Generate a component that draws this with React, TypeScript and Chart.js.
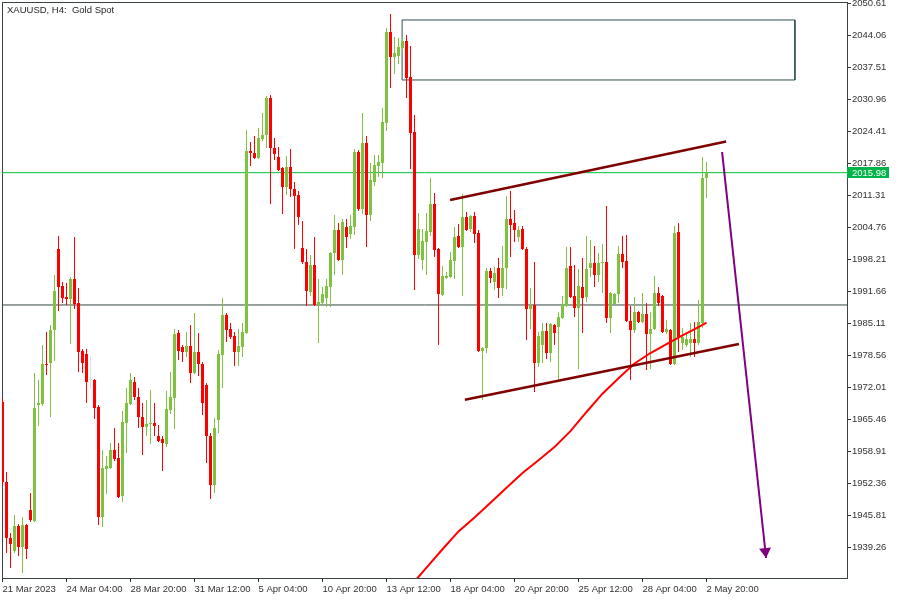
import React, { useEffect, useRef } from "react";
import { Chart, registerables } from "chart.js";

Chart.register(...registerables);

// ---- Candle data (XAUUSD H4), index 0 = 21 Mar 2023 ----
const opens = [
  1969.04, 1952.67, 1941.21, 1938.55, 1943.66, 1939.37, 1943.87, 1946.94, 1944.69, 1968.43,
  1968.63, 1976.82, 1977.03, 1983.78, 2000.36, 1992.78, 1990.53, 1990.12, 1994.22, 1989.31,
  1979.48, 1978.87, 1973.55, 1973.55, 1968.02, 1945.51, 1955.33, 1955.53, 1959.22, 1957.58,
  1949.80, 1964.75, 1968.63, 1973.14, 1970.07, 1965.97, 1963.93, 1964.54, 1964.75, 1962.08,
  1961.47, 1960.45, 1967.41, 1969.86, 1983.17, 1980.30, 1979.28, 1980.50, 1974.98, 1979.28,
  1976.82, 1972.52, 1962.08, 1952.06, 1965.36, 1978.66, 1986.85, 1983.98, 1982.55, 1979.28,
  1980.30, 1983.17, 2020.42, 2020.01, 2018.98, 2022.87, 2023.69, 2031.26, 2021.03, 2019.19,
  2016.94, 2013.05, 2017.14, 2012.64, 2011.41, 2000.56, 1997.70, 1991.56, 1997.08, 1988.90,
  1989.31, 1990.33, 1992.58, 1999.54, 2004.25, 1998.11, 2004.86, 2003.43, 2004.86, 2020.21,
  2008.54, 2022.05, 2007.32, 2014.07, 2017.35, 2017.96, 2026.15, 2044.77, 2039.65, 2039.86,
  2041.50, 2042.93, 2035.56, 2024.30, 1999.13, 1998.11, 2001.79, 2003.84, 2009.57, 2000.36,
  1990.94, 1994.42, 1994.63, 1997.90, 2003.02, 2000.77, 2006.91, 2004.45, 2007.11, 2003.63,
  1979.48, 1980.09, 1995.85, 1993.60, 1996.47, 1992.38, 1996.47, 2006.50, 2005.68, 2002.81,
  2004.45, 2000.36, 1988.08, 1988.90, 1977.03, 1980.71, 1983.57, 1979.07, 1984.80, 1984.39,
  1986.24, 1988.69, 1996.88, 1990.74, 1988.28, 1992.58, 1990.53, 1996.47, 1997.49, 1995.04,
  1997.49, 1997.70, 1986.24, 1989.10, 1991.15, 1999.33, 1997.90, 1985.62, 1983.78, 1987.46,
  1985.42, 1987.05, 1982.96, 1983.98, 1991.35, 1990.74, 1983.37, 1983.78, 1976.82, 2003.84,
  1981.12, 1980.71, 1981.12, 1981.94, 1981.12, 1985.21, 2014.89,
];
const highs = [
  1969.86, 1954.72, 1942.23, 1945.92, 1944.07, 1945.51, 1944.07, 1950.42, 1974.98, 1973.55,
  1980.71, 1983.37, 1984.80, 1995.04, 2003.02, 1993.60, 1993.40, 1994.63, 2002.81, 1992.38,
  1979.89, 1979.89, 1978.46, 1973.75, 1968.43, 1959.22, 1957.99, 1960.65, 1963.72, 1960.65,
  1967.20, 1971.91, 1974.98, 1974.16, 1971.91, 1968.84, 1969.45, 1971.50, 1968.84, 1964.34,
  1962.08, 1971.29, 1975.18, 1983.98, 1983.78, 1980.71, 1983.37, 1984.80, 1987.26, 1983.17,
  1977.23, 1972.93, 1962.70, 1965.77, 1979.69, 1990.33, 1987.26, 1985.21, 1983.37, 1983.98,
  1985.21, 2024.71, 2022.26, 2023.49, 2025.12, 2028.19, 2031.67, 2031.88, 2023.08, 2021.23,
  2017.14, 2019.39, 2020.82, 2014.07, 2012.23, 2006.09, 2000.36, 1999.13, 2002.81, 1994.22,
  1992.58, 1994.22, 1999.74, 2007.32, 2005.68, 2006.50, 2006.50, 2007.32, 2020.82, 2020.62,
  2028.19, 2023.49, 2017.96, 2019.60, 2019.60, 2029.22, 2045.59, 2048.45, 2043.75, 2043.54,
  2043.75, 2044.16, 2041.91, 2027.78, 2007.72, 2004.45, 2007.72, 2014.89, 2011.82, 2000.56,
  1996.88, 1995.65, 1999.74, 2004.86, 2005.47, 2011.61, 2007.93, 2007.32, 2007.93, 2004.25,
  1980.30, 1996.47, 1996.47, 1996.67, 1998.52, 2000.97, 2011.21, 2012.23, 2008.34, 2005.07,
  2005.07, 2000.77, 1992.38, 1997.70, 1983.37, 1985.21, 1985.21, 1985.21, 1985.01, 1987.46,
  1990.74, 2000.77, 2000.77, 1997.08, 1996.26, 1998.52, 2003.02, 2002.20, 2000.97, 1999.54,
  2001.38, 2009.16, 1991.56, 1991.35, 2000.97, 2003.02, 2003.22, 1988.69, 1990.53, 1987.67,
  1991.35, 1989.31, 1987.46, 1994.83, 1992.58, 1990.94, 1985.83, 1983.98, 2005.07, 2005.68,
  1984.19, 1983.37, 1985.21, 1985.42, 1989.92, 2019.19, 2018.16,
];
const lows = [
  1952.06, 1938.14, 1935.07, 1938.14, 1937.52, 1934.04, 1936.91, 1944.48, 1944.48, 1964.13,
  1968.22, 1974.57, 1965.97, 1977.43, 1987.67, 1989.31, 1988.90, 1980.91, 1988.08, 1975.18,
  1974.98, 1968.84, 1971.70, 1965.56, 1943.87, 1943.46, 1950.21, 1955.33, 1956.97, 1949.39,
  1948.58, 1958.60, 1968.43, 1969.45, 1963.72, 1958.20, 1962.08, 1960.45, 1962.08, 1960.86,
  1954.92, 1959.83, 1966.59, 1963.52, 1977.64, 1977.23, 1978.25, 1972.93, 1974.77, 1974.36,
  1966.38, 1956.56, 1949.19, 1950.42, 1962.70, 1971.91, 1981.32, 1981.94, 1976.41, 1976.41,
  1978.25, 1982.96, 2017.35, 2018.78, 2018.78, 2022.46, 2021.03, 2009.57, 2018.57, 2016.32,
  2007.52, 2011.41, 2011.00, 2000.36, 2005.27, 1997.29, 1988.69, 1990.74, 1988.69, 1981.12,
  1988.90, 1988.49, 1988.49, 1995.04, 1997.90, 1995.04, 2000.56, 2002.40, 2003.22, 2008.14,
  2007.52, 2000.77, 2006.09, 2013.25, 2015.09, 2014.89, 2024.51, 2033.31, 2036.17, 2038.22,
  2040.47, 2031.26, 2016.73, 1991.97, 1998.31, 1996.06, 1995.04, 2003.02, 1998.72, 1980.71,
  1990.74, 1994.22, 1994.42, 1994.22, 2000.56, 1990.74, 2004.04, 2003.84, 2001.59, 1979.28,
  1969.45, 1979.07, 1993.40, 1991.97, 1990.33, 1990.74, 1992.17, 1998.72, 2001.79, 2001.79,
  2000.15, 1981.73, 1983.98, 1971.09, 1976.21, 1977.03, 1977.84, 1977.23, 1980.71, 1973.55,
  1986.03, 1988.49, 1990.33, 1986.44, 1975.80, 1983.17, 1989.51, 1994.63, 1992.58, 1993.60,
  1991.35, 1985.21, 1983.17, 1988.90, 1989.31, 1996.47, 1985.42, 1973.55, 1983.17, 1985.21,
  1985.21, 1975.59, 1975.80, 1983.78, 1988.69, 1983.17, 1982.96, 1976.62, 1976.62, 1979.28,
  1979.69, 1980.30, 1978.25, 1978.25, 1980.71, 1984.19, 2010.80,
];
const closes = [
  1952.67, 1941.21, 1939.98, 1943.66, 1939.37, 1943.87, 1938.96, 1944.89, 1967.82, 1968.84,
  1976.82, 1976.62, 1983.78, 1991.76, 1992.58, 1990.33, 1990.12, 1994.22, 1989.10, 1979.28,
  1977.03, 1973.14, 1973.55, 1967.82, 1945.51, 1955.53, 1955.94, 1959.22, 1957.38, 1949.60,
  1964.95, 1968.84, 1973.55, 1970.07, 1965.97, 1963.93, 1964.54, 1964.75, 1964.13, 1961.06,
  1960.65, 1967.61, 1970.07, 1982.96, 1979.48, 1979.28, 1980.50, 1974.98, 1979.28, 1976.82,
  1968.84, 1962.08, 1952.06, 1963.72, 1978.87, 1986.85, 1983.78, 1982.35, 1979.28, 1980.50,
  1983.37, 2020.42, 2020.01, 2018.98, 2023.08, 2023.69, 2031.26, 2021.03, 2019.80, 2016.53,
  2013.05, 2017.14, 2012.64, 2011.21, 2006.91, 1997.70, 1991.76, 1997.08, 1988.90, 1989.51,
  1991.15, 1992.78, 1999.54, 2004.25, 1998.11, 2005.88, 2002.81, 2005.07, 2020.21, 2008.54,
  2022.05, 2007.32, 2014.48, 2017.55, 2018.16, 2026.35, 2044.77, 2039.65, 2040.47, 2041.70,
  2042.93, 2035.36, 2024.10, 1999.13, 2004.45, 2001.99, 2004.04, 2009.57, 2000.15, 1991.15,
  1994.83, 1994.83, 1998.11, 2002.81, 2000.77, 2006.91, 2004.25, 2007.11, 2003.43, 1979.48,
  1980.09, 1995.85, 1994.42, 1995.45, 1992.38, 1996.47, 2006.50, 2005.27, 2004.25, 2004.25,
  2000.36, 1988.08, 1988.90, 1977.03, 1982.55, 1983.57, 1979.07, 1985.01, 1983.17, 1986.44,
  1988.90, 1996.47, 1990.53, 1988.28, 1992.78, 1990.33, 1996.26, 1997.49, 1995.04, 1997.49,
  1997.70, 1986.24, 1991.35, 1991.15, 1999.33, 1997.70, 1985.62, 1983.78, 1987.46, 1985.42,
  1987.05, 1982.96, 1983.98, 1991.35, 1989.31, 1983.37, 1983.98, 1976.82, 2003.63, 1982.35,
  1982.35, 1981.94, 1981.94, 1981.12, 1985.42, 2014.89, 2015.98,
];

// ---- Axis ticks ----
const xTickIndex = [0, 16, 32, 48, 64, 80, 96, 112, 128, 144, 160, 176];
const xTickLabels = [
  "21 Mar 2023", "24 Mar 04:00", "28 Mar 20:00", "31 Mar 12:00", "5 Apr 04:00", "10 Apr 20:00",
  "13 Apr 12:00", "18 Apr 04:00", "20 Apr 20:00", "25 Apr 12:00", "28 Apr 04:00", "2 May 20:00",
];
const yTickValues = [
  1939.26, 1945.81, 1952.36, 1958.91, 1965.46, 1972.01, 1978.56, 1985.11, 1991.66,
  1998.21, 2004.76, 2011.31, 2017.86, 2024.41, 2030.96, 2037.51, 2044.06, 2050.61,
];

// ---- Moving average (read at candle indices) ----
const maIndex = [102, 106, 110, 114, 118, 122, 126, 130, 134, 138, 142, 146, 150, 154, 158, 162, 166, 170, 174, 176];
const maValues = [
  1931.36, 1935.13, 1938.90, 1942.56, 1945.40, 1948.41, 1951.50, 1954.51, 1957.13, 1959.83,
  1963.07, 1967.00, 1970.74, 1973.91, 1976.92, 1979.07, 1980.91, 1982.67, 1984.37, 1985.27,
];

// ---- Drawing objects ----
const upperTrendIndex = [111.9, 180.9];
const upperTrendPrice = [2010.39, 2022.37];
const lowerTrendIndex = [115.6, 184.1];
const lowerTrendPrice = [1969.51, 1980.92];
const arrowIndex = [179.9, 190.9];
const arrowPrice = [2020.21, 1937.11];
const zoneIndex = [99.9, 198.1];
const zonePrice = [2047.23, 2034.95];
const bidPrice = 2015.98;
const levelPrice = 1988.9;
const chartTitle = "XAUUSD, H4:  Gold Spot";

const X_MIN = -0.125;
const X_MAX = 211.125;
const Y_MIN = 1933.02;
const Y_MAX = 2050.91;

const GREEN = "#7fc241";
const RED = "#ff0000";
const DOJI = "#d8e4e2";
const FONT = "Liberation Sans";

export default function App() {
  const ref = useRef<HTMLCanvasElement>(null);

  useEffect(() => {
    const canvas = ref.current;
    if (!canvas) return;
    const idx = opens.map((_, i) => i);
    const colors = idx.map((i) =>
      closes[i] > opens[i] ? GREEN : closes[i] < opens[i] ? RED : DOJI
    );
    const pts = (xs: number[], ys: number[]) => xs.map((x, i) => ({ x, y: ys[i] }));
    const lineDs = (label: string, data: any[], color: string, width: number, order: number) => ({
      type: "line",
      label,
      data,
      borderColor: color,
      borderWidth: width,
      pointRadius: 0,
      tension: 0,
      fill: false,
      clip: 0,
      order,
    });

    const overlay = {
      id: "overlay",
      beforeDatasetsDraw(chart: any) {
        const { ctx, chartArea: a } = chart;
        ctx.save();
        ctx.strokeStyle = "#3a4448";
        ctx.lineWidth = 1;
        ctx.strokeRect(a.left + 0.5, a.top + 0.5, a.right - a.left, a.bottom - a.top);
        ctx.restore();
      },
      afterDatasetsDraw(chart: any) {
        const { ctx, scales } = chart;
        const x0 = scales.x.getPixelForValue(arrowIndex[0]);
        const y0 = scales.y.getPixelForValue(arrowPrice[0]);
        const x1 = scales.x.getPixelForValue(arrowIndex[1]);
        const y1 = scales.y.getPixelForValue(arrowPrice[1]);
        const ang = Math.atan2(y1 - y0, x1 - x0);
        const len = 10;
        const half = 6;
        const bx = x1 - len * Math.cos(ang);
        const by = y1 - len * Math.sin(ang);
        ctx.save();
        ctx.fillStyle = "#800080";
        ctx.beginPath();
        ctx.moveTo(x1, y1);
        ctx.lineTo(bx + half * Math.sin(ang), by - half * Math.cos(ang));
        ctx.lineTo(bx - half * Math.sin(ang), by + half * Math.cos(ang));
        ctx.closePath();
        ctx.fill();
        ctx.restore();
      },
      afterDraw(chart: any) {
        const { ctx, scales, chartArea: a } = chart;
        const py = scales.y.getPixelForValue(bidPrice);
        ctx.save();
        ctx.fillStyle = "#00b448";
        const top = Math.round(py - 5.5);
        ctx.fillRect(a.right, top, 42, 11);
        ctx.fillStyle = "#ffffff";
        ctx.font = `9.5px "${FONT}"`;
        ctx.textBaseline = "middle";
        ctx.textAlign = "left";
        ctx.fillText(bidPrice.toFixed(2), a.right + 5, top + 6);
        ctx.fillStyle = "#1e1e1e";
        ctx.fillText(chartTitle, 7, 10);
        ctx.restore();
      },
    };

    const chart = new Chart(canvas, {
      type: "bar",
      data: {
        datasets: [
          lineDs("arrow", pts(arrowIndex, arrowPrice), "#800080", 2, 0),
          lineDs("upper", pts(upperTrendIndex, upperTrendPrice), "#800000", 2.5, 1),
          lineDs("lower", pts(lowerTrendIndex, lowerTrendPrice), "#800000", 2.5, 1),
          lineDs("ma", pts(maIndex, maValues), "#ff0000", 2, 2),
          {
            type: "bar",
            label: "body",
            data: idx.map((i) => ({ x: i, y: [opens[i], closes[i]] })),
            backgroundColor: colors,
            borderWidth: 0,
            barPercentage: 0.75,
            categoryPercentage: 1,
            grouped: false,
            minBarLength: 1,
            order: 3,
          },
          {
            type: "bar",
            label: "wick",
            data: idx.map((i) => ({ x: i, y: [lows[i], highs[i]] })),
            backgroundColor: colors,
            borderWidth: 0,
            barPercentage: 0.25,
            categoryPercentage: 1,
            grouped: false,
            order: 4,
          },
          lineDs(
            "zone",
            [
              { x: zoneIndex[0], y: zonePrice[0] },
              { x: zoneIndex[1], y: zonePrice[0] },
              { x: zoneIndex[1], y: zonePrice[1] },
              { x: zoneIndex[0], y: zonePrice[1] },
              { x: zoneIndex[0], y: zonePrice[0] },
            ],
            "#2f4f4f",
            1,
            5
          ),
          lineDs("bid", [{ x: X_MIN, y: bidPrice }, { x: X_MAX, y: bidPrice }], "#00c040", 1, 6),
          lineDs("level", [{ x: X_MIN, y: levelPrice }, { x: X_MAX, y: levelPrice }], "#364444", 1, 6),
        ] as any,
      },
      options: {
        responsive: false,
        animation: false,
        devicePixelRatio: 1,
        events: [],
        layout: { padding: { left: 2, top: 2, right: 0, bottom: 0 } },
        plugins: { legend: { display: false }, tooltip: { enabled: false }, title: { display: false } },
        scales: {
          x: {
            type: "linear",
            position: "bottom",
            min: X_MIN,
            max: X_MAX,
            offset: false,
            afterBuildTicks: (s: any) => {
              s.ticks = xTickIndex.map((v) => ({ value: v }));
            },
            afterFit: (s: any) => {
              s.height = 22;
              s.paddingLeft = 0;
              s.paddingRight = 0;
            },
            ticks: {
              callback: (_v: any, i: number) => xTickLabels[i],
              font: { family: FONT, size: 9.5 },
              color: "#333333",
              padding: 2,
              align: "start",
              maxRotation: 0,
              minRotation: 0,
              autoSkip: false,
            },
            grid: { drawOnChartArea: false, drawTicks: true, tickLength: 4, color: "#333333", offset: false },
            border: { display: false },
          },
          y: {
            type: "linear",
            position: "right",
            min: Y_MIN,
            max: Y_MAX,
            beginAtZero: false,
            afterBuildTicks: (s: any) => {
              s.ticks = yTickValues.map((v) => ({ value: v }));
            },
            afterFit: (s: any) => {
              s.width = 53;
              s.paddingTop = 0;
              s.paddingBottom = 0;
            },
            ticks: {
              callback: (v: any) => Number(v).toFixed(2),
              font: { family: FONT, size: 9.5 },
              color: "#333333",
              padding: 1,
              autoSkip: false,
            },
            grid: { drawOnChartArea: false, drawTicks: true, tickLength: 4, color: "#333333" },
            border: { display: false },
          },
        },
      } as any,
      plugins: [overlay as any],
    });
    return () => chart.destroy();
  }, []);

  return (
    <div style={{ position: "absolute", left: 0, top: 0, width: 900, height: 600, background: "#ffffff" }}>
      <canvas ref={ref} width={900} height={600} style={{ display: "block", width: 900, height: 600 }} />
    </div>
  );
}
